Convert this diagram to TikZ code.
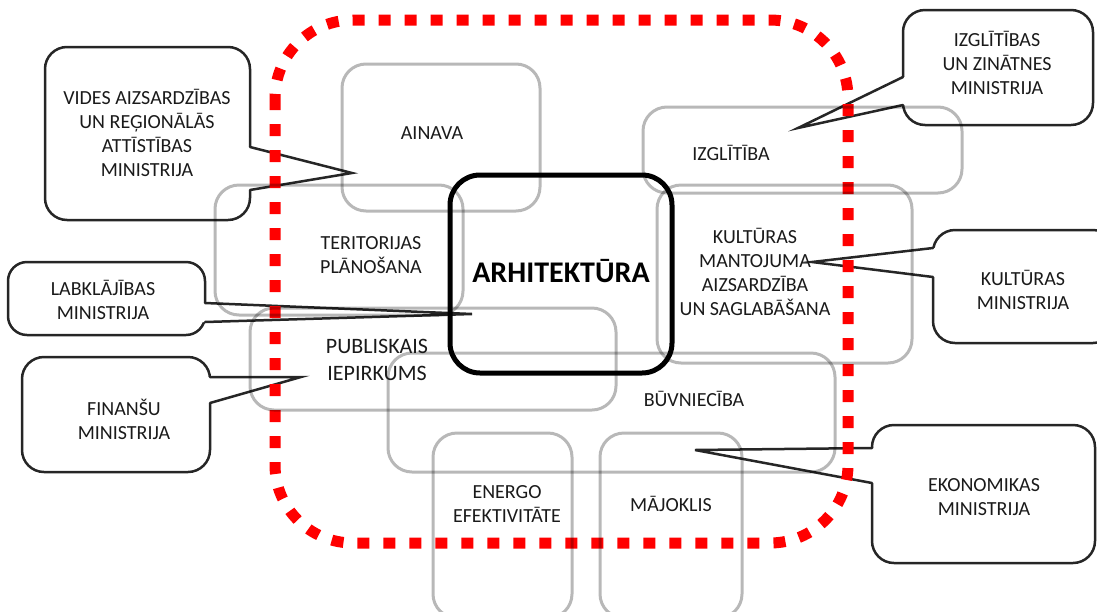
\documentclass[tikz,border=0pt]{standalone}
\usepackage{fontspec}
\setmainfont{Carlito}
\definecolor{txt}{HTML}{1A1A1A}
\definecolor{cline}{HTML}{262626}
\definecolor{dashred}{HTML}{FF0000}
\begin{document}
\begin{tikzpicture}[x=1pt,y=-1pt,
  reddash/.style={draw=dashred, line width=11pt, dash pattern=on 12pt off 14pt, rounded corners=78pt},
  graybox/.style={draw=black, draw opacity=0.28, line width=3pt, rounded corners=24pt, inner sep=0pt},
  archbox/.style={draw=black, line width=5pt, rounded corners=30pt, inner sep=0pt},
  calloutbody/.style={draw=cline, line width=2.5pt, rounded corners=22pt, inner sep=0pt},
  wedgeline/.style={draw=cline, line width=2.5pt, line join=miter, line cap=round},
  lbl/.style={font=\fontsize{20}{24}\selectfont, text=txt, align=center, inner sep=0pt},
]
\useasboundingbox (0,0) rectangle (1097,611);
\clip (0,0) rectangle (1097,611);

% callout bodies
\node[calloutbody, minimum width=205pt, minimum height=173pt] (videsC) at (147.5,133.5) {};
\node[calloutbody, rounded corners=19pt, minimum width=197pt, minimum height=73pt] (labkC) at (106.5,298.5) {};
\node[calloutbody, minimum width=188pt, minimum height=115pt] (finC) at (116,414.5) {};
\node[calloutbody, minimum width=190pt, minimum height=115pt] (izglC) at (998,67.5) {};
\node[calloutbody, minimum width=182pt, minimum height=113pt] (kultC) at (1024,286.5) {};
\node[calloutbody, minimum width=223pt, minimum height=138pt] (ekonC) at (983.5,494) {};

% wedge points
\coordinate (videsA) at (250,147); \coordinate (videsB) at (250,190); \coordinate (videsT) at (352,173);
\coordinate (labkA) at (205,303);  \coordinate (labkB) at (205,322);  \coordinate (labkT) at (472,314);
\coordinate (finA) at (210,377);   \coordinate (finB) at (210,403);   \coordinate (finT) at (301,377);
\coordinate (izglA) at (903,77);   \coordinate (izglB) at (903,105);  \coordinate (izglT) at (798,128);
\coordinate (kultA) at (933,248);  \coordinate (kultB) at (933,277);  \coordinate (kultT) at (812,262);
\coordinate (ekonA) at (872,448);  \coordinate (ekonB) at (872,483);  \coordinate (ekonT) at (695,450);

% white patches over body edges (right-side wedges)
\foreach \w in {vides,labk,fin}{
  \fill[white] (\w A) ++(-4,0) -- (\w A) -- (\w T) -- (\w B) -- ++(-4,0) -- cycle;
}
\foreach \w in {izgl,kult,ekon}{
  \fill[white] (\w A) ++(4,0) -- (\w A) -- (\w T) -- (\w B) -- ++(4,0) -- cycle;
}
\foreach \w in {vides,labk,fin,izgl,kult,ekon}{
  \draw[wedgeline] (\w A) -- (\w T) -- (\w B);
}

% red dashed boundary
\draw[reddash] (275,20) rectangle (848,543);

% gray topic boxes
\node[graybox, minimum width=198pt, minimum height=147pt] (bAinava) at (441,137.5) {};
\node[graybox, minimum width=248pt, minimum height=130pt] (bTerit) at (339,250) {};
\node[graybox, minimum width=366pt, minimum height=102pt] (bPubl) at (433,359) {};
\node[graybox, minimum width=447pt, minimum height=119pt] (bBuvn) at (611.5,412.5) {};
\node[graybox, minimum width=139pt, minimum height=185pt] (bEnergo) at (502.5,525.5) {};
\node[graybox, minimum width=142pt, minimum height=185pt] (bMajo) at (671,525.5) {};
\node[graybox, minimum width=319pt, minimum height=86pt] (bIzgl) at (802.5,150) {};
\node[graybox, minimum width=255pt, minimum height=178pt] (bKult) at (784.5,274) {};

% central box
\node[archbox, minimum width=222pt, minimum height=198pt] (bArch) at (561,274) {};

% texts
\node[lbl] (tAinava) at (432,133) {AINAVA};
\node[lbl] (tTerit) at (371,255) {TERITORIJAS\\PLĀNOŠANA};
\node[lbl, font=\fontsize{22}{27}\selectfont] (tPubl) at (377,360) {PUBLISKAIS\\IEPIRKUMS};
\node[lbl] (tIzgl) at (731,153) {IZGLĪTĪBA};
\node[lbl] (tKult) at (755,271.5) {KULTŪRAS\\MANTOJUMA\\AIZSARDZĪBA\\UN SAGLABĀŠANA};
\node[lbl] (tBuvn) at (694,399) {BŪVNIECĪBA};
\node[lbl] (tEnergo) at (507,504) {ENERGO\\EFEKTIVITĀTE};
\node[lbl] (tMajo) at (671,504) {MĀJOKLIS};
\node[lbl, font=\fontsize{30}{36}\selectfont\bfseries, text=black] (tArch) at (561,271) {ARHITEKTŪRA};

\node[lbl] (tVides) at (147,132.5) {VIDES AIZSARDZĪBAS\\UN REĢIONĀLĀS\\ATTĪSTĪBAS\\MINISTRIJA};
\node[lbl] (tLabk) at (103,300) {LABKLĀJĪBAS\\MINISTRIJA};
\node[lbl] (tFin) at (124,419.5) {FINANŠU\\MINISTRIJA};
\node[lbl] (tIzglM) at (997,62.5) {IZGLĪTĪBAS\\UN ZINĀTNES\\MINISTRIJA};
\node[lbl] (tKultM) at (1023,290) {KULTŪRAS\\MINISTRIJA};
\node[lbl] (tEkon) at (984,497.5) {EKONOMIKAS\\MINISTRIJA};
\end{tikzpicture}
\end{document}
